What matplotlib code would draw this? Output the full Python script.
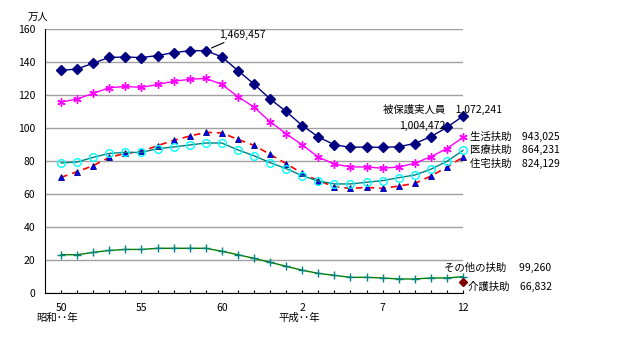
import matplotlib
matplotlib.use("Agg")
import matplotlib.pyplot as plt
import numpy as np

plt.rcParams['font.family'] = ['Noto Sans CJK JP', 'DejaVu Sans']

# 昭和50年 .. 平成12年 (26 years), values in 万人
years = list(range(26))
tick_pos = [0, 5, 10, 15, 20, 25]
tick_labels = ['50', '55', '60', '2', '7', '12']

protected = [134.9, 135.8, 139.3, 142.8, 143.0, 142.7, 143.9, 145.7, 146.8, 146.9,
             143.1, 134.8, 126.6, 117.6, 110.0, 101.5, 94.6, 89.8, 88.3, 88.5,
             88.2, 88.7, 90.6, 94.7, 100.4, 107.2]
livelihood = [115.6, 117.6, 121.0, 124.4, 125.2, 124.6, 126.4, 128.3, 129.5, 130.1,
              126.4, 119.0, 112.7, 103.8, 96.5, 89.8, 82.3, 78.2, 76.4, 76.4,
              75.6, 76.4, 78.6, 82.6, 87.5, 94.3]
medical = [78.8, 79.4, 82.2, 84.6, 85.2, 85.2, 87.5, 88.5, 89.7, 90.9,
           90.9, 86.7, 83.2, 79.0, 75.4, 71.1, 67.9, 66.1, 66.1, 67.1,
           68.1, 69.9, 71.5, 75.0, 79.8, 86.4]
housing = [70.1, 73.5, 77.2, 82.2, 84.6, 85.8, 89.3, 92.5, 95.1, 97.4,
           97.0, 93.1, 89.5, 84.0, 78.4, 72.5, 68.1, 64.4, 63.4, 64.0,
           63.4, 64.8, 66.4, 70.9, 76.2, 82.4]
other = [23.2, 23.2, 24.6, 25.8, 26.4, 26.4, 27.1, 27.1, 27.1, 27.1,
         25.3, 23.2, 21.0, 18.6, 16.2, 13.8, 11.9, 10.7, 9.5, 9.5,
         9.1, 8.5, 8.5, 9.1, 9.1, 9.9]
care_x = [25]
care = [6.68]

fig = plt.figure(figsize=(6.2, 3.38), dpi=100)
ax = fig.add_axes([45/620, 1-293/338, (463-45)/620, (293-29)/338])

ax.plot(years, other, color='#008000', lw=1, marker='+', ms=6, mec='#008080', mew=1,
        clip_on=False)
ax.plot(years, housing, color='#FF0000', lw=1.2, ls=(0, (4, 3)), marker='^', ms=5,
        mfc='#0000FF', mec='#000080', mew=0.6, clip_on=False)
ax.plot(years, medical, color='#008080', lw=1, marker='o', ms=5.5, mfc='none',
        mec='#00FFFF', mew=1, clip_on=False)
ax.plot(years, livelihood, color='#FF00FF', lw=1, marker=(6, 2, 0), ms=6,
        mec='#FF00FF', mew=1, clip_on=False)
ax.plot(years, protected, color='#000080', lw=1, marker='D', ms=5.5,
        mfc='#000080', mec='#000080', clip_on=False)
ax.plot(care_x, care, ls='none', marker='D', ms=4.5, color='#800000', clip_on=False)

ax.set_xlim(-1, 25)
ax.set_ylim(0, 160)
ax.set_yticks(np.arange(0, 161, 20))
ax.set_xticks(tick_pos)
ax.set_xticklabels(tick_labels)
ax.set_xticks(years, minor=True)
ax.grid(axis='y', color='#A0A0A0', lw=1)
ax.set_axisbelow(True)
for s in ['top', 'right']:
    ax.spines[s].set_visible(False)
ax.spines['left'].set_color('black')
ax.spines['bottom'].set_color('black')
ax.tick_params(axis='y', length=0, labelsize=7.5, pad=7)
ax.tick_params(axis='x', which='both', direction='in', length=2.5, width=0.8,
               labelsize=7.5, pad=7)

fs = 7.5
ax.annotate('1,469,457', xy=(9.36, 148.5), xytext=(9.8, 156.5), fontsize=fs,
            va='center', ha='left', arrowprops=dict(arrowstyle='-', color='black', lw=0.8,
                                                    shrinkA=0, shrinkB=0))
ax.text(20.0, 111.5, '被保護実人員　1,072,241', fontsize=fs, va='center', ha='left')
ax.text(21.0, 101.2, '1,004,472', fontsize=fs, va='center', ha='left')
ax.text(25.43, 95.1, '生活扶助　943,025', fontsize=fs, va='center', ha='left')
ax.text(25.43, 86.7, '医療扶助　864,231', fontsize=fs, va='center', ha='left')
ax.text(25.43, 78.2, '住宅扶助　824,129', fontsize=fs, va='center', ha='left')
ax.text(23.8, 15.3, 'その他の扶助　 99,260', fontsize=fs, va='center', ha='left')
ax.text(25.3, 3.8, '介護扶助　66,832', fontsize=fs, va='center', ha='left')

fig.text(28/620, 1-17/338, '万人', fontsize=fs, va='center', ha='left')
fig.text(36/620, 1-318/338, '昭和･･年', fontsize=fs, va='center', ha='left')
fig.text(278/620, 1-318/338, '平成･･年', fontsize=fs, va='center', ha='left')

fig.savefig('out.png', dpi=100)
